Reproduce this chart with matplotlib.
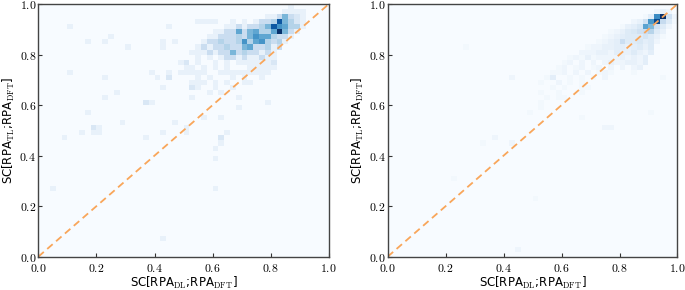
import matplotlib.pyplot as plt
import numpy as np
from matplotlib.ticker import FuncFormatter

plt.rcParams['mathtext.fontset'] = 'cm'

# bin width of the 2d histograms (50 x 50 bins on [0, 1])
bw = 0.02

# left panel: dense cluster, rows from bin 49 (top) down to bin 31, cols from bin 24
left_row0, left_col0 = 49, 24
left_grid = [
    [0, 0, 0, 0, 0, 0, 0, 0, 0, 0, 0, 0, 0, 0, 0, 0, 0, 0, 0, 1, 0, 0, 0, 0, 0],
    [0, 0, 0, 0, 0, 0, 0, 0, 0, 0, 0, 0, 0, 0, 0, 0, 0, 0, 1, 1, 1, 1, 0, 0, 0],
    [0, 0, 0, 0, 0, 0, 0, 0, 0, 0, 0, 0, 0, 0, 0, 1, 1, 3, 6, 3, 2, 1, 0, 0, 0],
    [0, 0, 0, 1, 1, 1, 1, 0, 0, 1, 0, 1, 0, 1, 3, 3, 4, 11, 6, 4, 2, 1, 0, 0, 0],
    [0, 0, 0, 0, 0, 0, 0, 0, 1, 1, 3, 1, 3, 3, 4, 6, 11, 8, 7, 4, 4, 1, 0, 0, 0],
    [0, 0, 0, 0, 0, 0, 1, 1, 3, 3, 7, 3, 6, 7, 4, 4, 7, 13, 6, 3, 1, 0, 0, 0, 0],
    [0, 0, 0, 0, 0, 1, 1, 3, 3, 3, 4, 3, 6, 8, 7, 7, 4, 3, 3, 1, 0, 0, 0, 0, 0],
    [0, 0, 0, 0, 1, 3, 3, 4, 3, 3, 4, 8, 4, 7, 8, 4, 3, 4, 1, 0, 0, 0, 0, 0, 0],
    [0, 0, 0, 1, 3, 1, 3, 3, 4, 3, 3, 6, 7, 3, 3, 4, 1, 3, 0, 0, 0, 0, 0, 0, 0],
    [0, 0, 1, 1, 1, 3, 1, 3, 3, 6, 3, 4, 3, 3, 1, 3, 1, 0, 0, 0, 0, 0, 0, 0, 0],
    [0, 0, 0, 1, 0, 1, 0, 1, 3, 3, 1, 3, 1, 1, 3, 1, 1, 0, 0, 0, 0, 0, 0, 0, 0],
    [0, 2, 0, 1, 0, 0, 1, 0, 1, 0, 1, 1, 1, 1, 1, 1, 2, 0, 0, 0, 0, 0, 0, 0, 0],
    [0, 1, 1, 0, 1, 0, 1, 0, 1, 0, 0, 0, 1, 1, 1, 1, 1, 0, 0, 0, 0, 0, 0, 0, 0],
    [1, 1, 1, 1, 1, 0, 0, 1, 1, 1, 1, 1, 1, 1, 1, 1, 0, 0, 0, 0, 0, 0, 0, 0, 0],
    [0, 0, 0, 1, 0, 1, 0, 0, 0, 1, 0, 1, 0, 0, 1, 0, 0, 0, 0, 0, 0, 0, 0, 0, 0],
    [0, 0, 1, 1, 1, 0, 1, 0, 1, 0, 0, 1, 1, 0, 0, 0, 0, 0, 0, 0, 0, 0, 0, 0, 0],
    [0, 0, 2, 1, 0, 0, 1, 0, 0, 1, 0, 0, 0, 0, 0, 0, 0, 0, 0, 0, 0, 0, 0, 0, 0],
    [0, 0, 0, 0, 0, 1, 0, 1, 0, 0, 0, 0, 0, 0, 0, 0, 0, 0, 0, 0, 0, 0, 0, 0, 0],
    [0, 0, 1, 0, 0, 0, 0, 0, 0, 0, 1, 0, 0, 0, 0, 0, 0, 0, 0, 0, 0, 0, 0, 0, 0],
]
# left panel: scattered cells (col bin, row bin, count)
left_out_col = [5, 8, 11, 12, 15, 5, 11, 13, 11, 18, 19, 8, 14, 9, 10, 9, 10, 7, 4, 18, 2,
                21, 30, 30, 31, 31, 32, 30, 31, 28, 25, 25, 23, 21, 34, 39, 21, 21, 23, 22,
                19, 20, 22, 22, 21, 24]
left_out_row = [45, 42, 42, 43, 41, 36, 35, 32, 31, 30, 30, 28, 26, 25, 25, 24, 24, 24, 23, 23, 13,
                3, 13, 19, 22, 23, 24, 21, 27, 27, 25, 24, 26, 24, 29, 30, 41, 42, 42, 45,
                36, 35, 36, 35, 33, 38]
left_out_n = [1, 1, 1, 1, 1, 1, 1, 1, 1, 2, 1, 1, 1, 2, 1, 1, 1, 1, 1, 1, 1,
              1, 1, 1, 1, 2, 1, 1, 1, 1, 1, 1, 1, 1, 1, 1, 1, 1, 1, 1,
              1, 1, 1, 2, 1, 1]

# right panel: dense cluster, rows from bin 48 (top) down to bin 30, cols from bin 26
right_row0, right_col0 = 48, 26
right_grid = [
    [0, 0, 0, 0, 0, 0, 0, 0, 0, 0, 0, 0, 0, 0, 0, 0, 0, 0, 0, 0, 2, 3, 2, 0],
    [0, 0, 0, 0, 0, 0, 0, 0, 0, 0, 0, 0, 0, 0, 0, 0, 0, 0, 1, 4, 26, 40, 8, 2],
    [0, 0, 0, 0, 0, 0, 0, 0, 0, 0, 0, 0, 0, 0, 0, 0, 2, 3, 8, 24, 36, 10, 5, 1],
    [0, 0, 0, 0, 0, 0, 0, 0, 0, 0, 0, 0, 0, 0, 1, 3, 4, 6, 22, 18, 8, 5, 2, 0],
    [0, 0, 0, 0, 0, 0, 0, 0, 0, 0, 0, 0, 1, 2, 3, 5, 6, 8, 9, 12, 5, 3, 0, 0],
    [0, 0, 0, 0, 0, 0, 0, 0, 0, 0, 0, 1, 2, 3, 4, 5, 5, 5, 7, 5, 3, 1, 0, 0],
    [0, 0, 0, 0, 0, 0, 0, 0, 0, 0, 1, 2, 3, 4, 9, 5, 5, 6, 4, 5, 2, 0, 0, 0],
    [0, 0, 0, 0, 0, 0, 0, 0, 1, 2, 2, 3, 3, 4, 4, 3, 4, 5, 3, 5, 0, 0, 0, 0],
    [0, 0, 0, 0, 0, 0, 0, 2, 2, 2, 3, 3, 2, 4, 3, 3, 5, 3, 2, 4, 0, 0, 0, 0],
    [0, 0, 0, 0, 0, 1, 2, 1, 3, 1, 2, 2, 2, 2, 3, 2, 3, 2, 4, 0, 0, 0, 0, 0],
    [0, 0, 0, 0, 1, 2, 0, 2, 0, 2, 0, 2, 3, 2, 2, 3, 3, 2, 4, 0, 0, 0, 0, 0],
    [0, 0, 0, 1, 2, 0, 1, 2, 0, 1, 2, 0, 2, 0, 2, 0, 2, 3, 0, 0, 0, 0, 0, 0],
    [0, 0, 1, 1, 2, 0, 2, 0, 2, 0, 1, 2, 1, 0, 0, 0, 1, 0, 0, 0, 0, 0, 0, 0],
    [0, 1, 2, 0, 0, 1, 0, 1, 0, 1, 0, 2, 0, 0, 0, 0, 0, 0, 0, 0, 0, 0, 0, 0],
    [1, 0, 0, 2, 0, 1, 0, 1, 0, 0, 0, 0, 0, 0, 0, 0, 0, 0, 0, 0, 0, 0, 0, 0],
    [0, 0, 1, 0, 1, 0, 0, 0, 1, 0, 0, 0, 0, 0, 0, 0, 0, 0, 0, 0, 0, 0, 0, 0],
    [1, 0, 0, 1, 0, 0, 0, 1, 0, 0, 0, 0, 0, 0, 0, 0, 0, 0, 0, 0, 0, 0, 0, 0],
    [0, 1, 0, 1, 0, 0, 0, 0, 0, 0, 0, 0, 0, 0, 0, 0, 0, 0, 0, 0, 0, 0, 0, 0],
    [1, 0, 0, 0, 0, 0, 0, 0, 0, 0, 0, 0, 0, 0, 0, 0, 0, 0, 0, 0, 0, 0, 0, 0],
]
right_out_col = [13, 16, 18, 21, 21, 11, 25, 22, 24, 26, 45, 33, 37, 38, 47, 28, 30, 33]
right_out_row = [41, 22, 23, 22, 35, 15, 11, 1, 28, 29, 28, 27, 25, 25, 35, 35, 31, 33]
right_out_n = [1, 1, 2, 2, 2, 1, 1, 2, 1, 1, 1, 1, 2, 2, 1, 2, 1, 1]

ticks = [0.0, 0.2, 0.4, 0.6, 0.8, 1.0]
xlabel = r'SC[RPA$_\mathrm{DL}$;RPA$_\mathrm{DFT}$]'
ylabel = r'SC[RPA$_\mathrm{TL}$;RPA$_\mathrm{DFT}$]'


def cells(grid, row0, col0, out_col, out_row, out_n):
    xs, ys, ws = [], [], []
    for i, row in enumerate(grid):
        for j, n in enumerate(row):
            if n:
                xs.append((col0 + j + 0.5) * bw)
                ys.append((row0 - i + 0.5) * bw)
                ws.append(n)
    for c, r, n in zip(out_col, out_row, out_n):
        xs.append((c + 0.5) * bw)
        ys.append((r + 0.5) * bw)
        ws.append(n)
    return np.array(xs), np.array(ys), np.array(ws)


fig = plt.figure(figsize=(6.85, 2.9), dpi=100)
ax1 = fig.add_axes([0.056, 0.115, 0.424, 0.871])
ax2 = fig.add_axes([0.566, 0.115, 0.423, 0.871])

data = [cells(left_grid, left_row0, left_col0, left_out_col, left_out_row, left_out_n),
        cells(right_grid, right_row0, right_col0, right_out_col, right_out_row, right_out_n)]

for ax, (x, y, w) in zip([ax1, ax2], data):
    ax.hist2d(x, y, bins=50, range=[[0, 1], [0, 1]], weights=w, cmap='Blues')
    ax.plot([0, 1], [0, 1], '--', color='#f9a65a', lw=1.3, dashes=(4, 2.5))
    ax.set_xlim(0, 1)
    ax.set_ylim(0, 1)
    ax.set_xticks(ticks)
    ax.set_yticks(ticks)
    fmt = FuncFormatter(lambda v, p: r'$%.1f$' % v)
    ax.xaxis.set_major_formatter(fmt)
    ax.yaxis.set_major_formatter(fmt)
    ax.tick_params(direction='in', labelsize=8.5, length=3, width=0.8,
                   color='#333333')
    ax.tick_params(axis='x', pad=3.5)
    ax.tick_params(axis='y', pad=1.5)
    for s in ax.spines.values():
        s.set_color('#444444')
        s.set_linewidth(1.0)
    ax.set_xlabel(xlabel, fontsize=8.5, labelpad=0.5)
    ax.set_ylabel(ylabel, fontsize=8.5, labelpad=2)

fig.savefig('out.png', dpi=100)
